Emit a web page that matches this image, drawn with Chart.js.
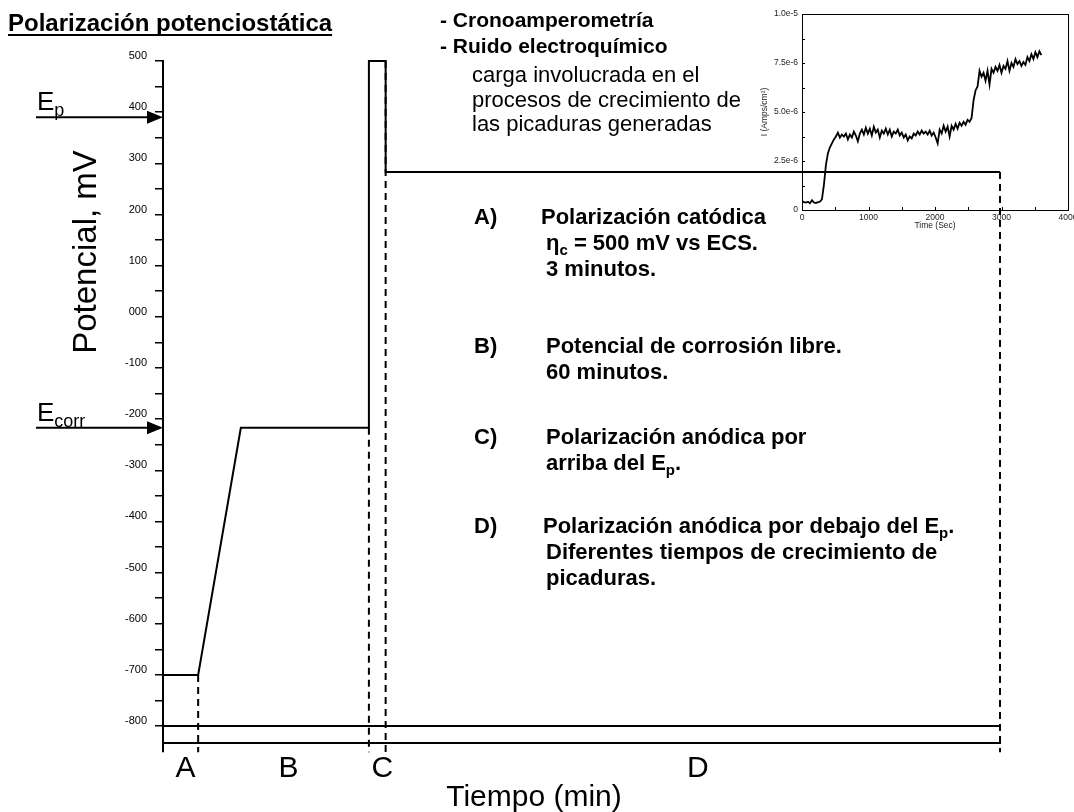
<!DOCTYPE html>
<html>
<head>
<meta charset="utf-8">
<script src="https://cdn.jsdelivr.net/npm/chart.js@4"></script>
<style>
  html, body { margin: 0; padding: 0; background: #fff; overflow: hidden; }
  #wrap { position: relative; width: 1074px; height: 812px; }
  #main { position: absolute; left: 0; top: 0; }
  #inset { position: absolute; left: 740px; top: 0; }
</style>
</head>
<body>
<div id="wrap">
  <canvas id="main" width="1074" height="812"></canvas>
  <canvas id="inset" width="360" height="235"></canvas>
</div>
<script>
// potential program (time in arbitrary units, potential in mV)
const stepTime = [0, 4.2, 9.3, 24.6, 24.6, 26.6, 26.6, 100];
const stepPotential = [-700, -700, -217, -217, 500, 500, 283, 283];
const baseLevel = -800;
const potentialMin = -833;
const stubBottom = -851;
const phaseBounds = [0, 4.2, 24.6, 26.6, 100];
const phaseNames = ['A', 'B', 'C', 'D'];
const guideTime = [4.2, 24.6, 26.6, 100];
const guideTop = [-700, -217, 500, 283];
const epValue = 390;
const ecorrValue = -217;
const potentialTicks = [500, 400, 300, 200, 100, 0, -100, -200, -300, -400, -500, -600, -700, -800];

// inset: chronoamperometry, current in 1e-6 A/cm2
const insetTime = [
  0, 30, 60, 90, 120, 150, 180, 210, 240, 270,
  300, 330, 360, 390, 420, 450, 480, 510, 540, 570,
  600, 630, 660, 690, 720, 750, 780, 810, 840, 870,
  900, 930, 960, 990, 1020, 1050, 1080, 1110, 1140, 1170,
  1200, 1230, 1260, 1290, 1320, 1350, 1380, 1410, 1440, 1470,
  1500, 1530, 1560, 1590, 1620, 1650, 1680, 1710, 1740, 1770,
  1800, 1830, 1860, 1890, 1920, 1950, 1980, 2010, 2040, 2070,
  2100, 2130, 2160, 2190, 2220, 2250, 2280, 2310, 2340, 2370,
  2400, 2430, 2460, 2490, 2520, 2550, 2580, 2610, 2640, 2670,
  2700, 2730, 2760, 2790, 2820, 2850, 2880, 2910, 2940, 2970,
  3000, 3030, 3060, 3090, 3120, 3150, 3180, 3210, 3240, 3270,
  3300, 3330, 3360, 3390, 3420, 3450, 3480, 3510, 3540, 3570,
  3600
];
const insetCurrent = [
  0.45, 0.40, 0.38, 0.42, 0.35, 0.50, 0.38, 0.36, 0.40, 0.42,
  0.55, 1.30, 2.30, 2.90, 3.20, 3.40, 3.60, 3.75, 3.95, 3.70,
  3.85, 3.75, 3.90, 3.60, 3.85, 3.70, 4.00, 3.80, 3.50, 3.90,
  4.10, 3.85, 4.20, 3.90, 4.15, 3.80, 4.25, 3.95, 4.10, 3.70,
  4.05, 3.90, 4.15, 3.85, 4.10, 3.75, 4.00, 3.90, 4.10, 3.80,
  3.95, 3.70, 3.85, 3.55, 3.75, 3.65, 3.90, 3.80, 4.00, 3.85,
  4.05, 3.90, 4.00, 3.85, 4.05, 3.80, 3.95, 3.70, 3.40, 4.10,
  3.90, 4.30, 4.00, 4.25, 3.75, 4.30, 4.10, 4.40, 4.15, 4.45,
  4.30, 4.50, 4.35, 4.60, 4.50, 4.70, 5.60, 6.10, 6.30, 7.10,
  6.80, 7.00, 6.60, 7.10, 6.40, 7.20, 7.00, 7.30, 7.10, 7.40,
  7.00, 7.35, 7.20, 7.60, 7.10, 7.50, 7.30, 7.70, 7.45, 7.60,
  7.35, 7.55, 7.40, 7.80, 7.60, 7.95, 7.70, 8.05, 7.80, 8.10,
  7.90
];
const insetYTicks = [0, 2.5e-6, 5e-6, 7.5e-6, 1e-5];
const insetXTicks = [0, 1000, 2000, 3000, 4000];

// texts ('_' marks a subscript piece)
const titleText = 'Polarización potenciostática';
const techniqueLines = ['- Cronoamperometría', '- Ruido electroquímico'];
const noteLines = ['carga involucrada en el', 'procesos de crecimiento de', 'las picaduras generadas'];
const stepNotes = [
  { tag: 'A)', lines: [['Polarización catódica'], ['η', '_c', ' = 500 mV vs ECS.'], ['3 minutos.']] },
  { tag: 'B)', lines: [['Potencial de corrosión libre.'], ['60 minutos.']] },
  { tag: 'C)', lines: [['Polarización anódica por'], ['arriba del E', '_p', '.']] },
  { tag: 'D)', lines: [['Polarización anódica por debajo del E', '_p', '.'], ['Diferentes tiempos de crecimiento de'], ['picaduras.']] }
];

const FONT = 'Arial, "Liberation Sans", sans-serif';
Chart.defaults.font.family = FONT;
Chart.defaults.color = '#000';

function drawRich(ctx, segs, x, y, size, bold) {
  const w = bold ? 'bold ' : '';
  let cx = x;
  segs.forEach(s => {
    const sub = s.startsWith('_');
    const t = sub ? s.slice(1) : s;
    ctx.font = w + (sub ? Math.round(size * 0.68) : size) + 'px ' + FONT;
    ctx.fillText(t, cx, sub ? y + size * 0.22 : y);
    cx += ctx.measureText(t).width;
  });
  return cx - x;
}

const line = (data, width, dash) => ({
  data, showLine: true, borderColor: '#000', borderWidth: width, borderDash: dash || [],
  pointRadius: 0, clip: false, fill: false
});

const datasets = [
  line(stepTime.map((t, i) => ({x: t, y: stepPotential[i]})), 2),
  line([{x: 0, y: baseLevel}, {x: 100, y: baseLevel}], 2),
  line([{x: 0, y: potentialMin}, {x: 0, y: stubBottom}], 2)
];
guideTime.forEach((t, i) => {
  datasets.push(line([{x: t, y: guideTop[i]}, {x: t, y: stubBottom}], 2, [7, 5]));
});

const annotations = {
  id: 'annotations',
  afterDraw(chart) {
    const ctx = chart.ctx;
    const xs = chart.scales.x, ys = chart.scales.y;
    ctx.save();
    ctx.fillStyle = '#000';
    ctx.strokeStyle = '#000';
    ctx.textBaseline = 'alphabetic';
    ctx.textAlign = 'left';

    // title, underlined
    const tw = drawRich(ctx, [titleText], 8, 31, 24, true);
    ctx.fillRect(8, 34, tw, 2);

    techniqueLines.forEach((t, i) => drawRich(ctx, [t], 440, 27 + i * 26, 21, true));
    noteLines.forEach((t, i) => drawRich(ctx, [t], 472, 82 + i * 24.5, 22, false));

    const firstY = [224, 353, 444, 533];
    const textX = [541, 546, 546, 543];
    stepNotes.forEach((n, i) => {
      drawRich(ctx, [n.tag], 474, firstY[i], 22, true);
      n.lines.forEach((l, j) => drawRich(ctx, l, j === 0 ? textX[i] : 546, firstY[i] + j * 26, 22, true));
    });

    // Ep / Ecorr arrows
    [[epValue, ['E', '_p']], [ecorrValue, ['E', '_corr']]].forEach(([v, lab]) => {
      const y = ys.getPixelForValue(v);
      const x1 = xs.left;
      ctx.lineWidth = 2;
      ctx.beginPath();
      ctx.moveTo(36, y);
      ctx.lineTo(x1 - 14, y);
      ctx.stroke();
      ctx.beginPath();
      ctx.moveTo(x1 - 16, y - 6.5);
      ctx.lineTo(x1, y);
      ctx.lineTo(x1 - 16, y + 6.5);
      ctx.closePath();
      ctx.fill();
      drawRich(ctx, lab, 37, y - 7, 26, false);
    });

    // phase letters
    ctx.textAlign = 'center';
    ctx.font = '30px ' + FONT;
    phaseNames.forEach((n, i) => {
      const mid = (xs.getPixelForValue(phaseBounds[i]) + xs.getPixelForValue(phaseBounds[i + 1])) / 2;
      ctx.fillText(n, mid + 5, 777);
    });

    // axis titles
    ctx.font = '30px ' + FONT;
    ctx.fillText('Tiempo (min)', 534, 806);
    ctx.translate(87, 252);
    ctx.rotate(-Math.PI / 2);
    ctx.textBaseline = 'middle';
    ctx.font = '33px ' + FONT;
    ctx.fillText('Potencial, mV', 0, 0);
    ctx.restore();
  }
};

const allPotentialTicks = [];
potentialTicks.forEach((v, i) => {
  allPotentialTicks.push(v);
  if (i < potentialTicks.length - 1) allPotentialTicks.push(v - 50);
});

new Chart(document.getElementById('main'), {
  type: 'scatter',
  data: { datasets },
  options: {
    responsive: false,
    animation: false,
    layout: { padding: { left: 0, right: 74, top: 61, bottom: 0 } },
    plugins: { legend: { display: false }, tooltip: { enabled: false } },
    scales: {
      x: {
        type: 'linear', min: 0, max: 100,
        ticks: { display: false },
        grid: { display: false },
        border: { color: '#000', width: 2 },
        afterFit: s => { s.height = 69; }
      },
      y: {
        type: 'linear', min: potentialMin, max: 500,
        afterBuildTicks: s => { s.ticks = allPotentialTicks.map(v => ({ value: v })); },
        ticks: {
          autoSkip: false,
          font: { size: 11 },
          color: '#000',
          padding: 8,
          labelOffset: -5,
          callback: v => potentialTicks.includes(v) ? (v === 0 ? '000' : String(v)) : ''
        },
        grid: { drawOnChartArea: false, drawTicks: true, tickLength: 8, color: '#000', lineWidth: 1.5 },
        border: { color: '#000', width: 2 },
        afterFit: s => { s.width = 163; }
      }
    }
  },
  plugins: [annotations]
});

// inset chart
const insetFrame = {
  id: 'insetFrame',
  afterDraw(chart) {
    const {ctx, chartArea: a} = chart;
    const xs = chart.scales.x, ys = chart.scales.y;
    ctx.save();
    ctx.strokeStyle = '#000';
    ctx.lineWidth = 1;
    ctx.strokeRect(a.left + 0.5, a.top + 0.5, a.width, a.height);
    ctx.beginPath();
    for (let i = 0; i < insetYTicks.length; i++) {
      const v = insetYTicks[i];
      [v, v + 1.25e-6].forEach(t => {
        if (t > 1e-5) return;
        const y = Math.round(ys.getPixelForValue(t)) + 0.5;
        ctx.moveTo(a.left, y); ctx.lineTo(a.left + 3, y);
      });
    }
    for (let i = 0; i < insetXTicks.length; i++) {
      [insetXTicks[i], insetXTicks[i] + 500].forEach(t => {
        if (t > 4000) return;
        const x = Math.round(xs.getPixelForValue(t)) + 0.5;
        ctx.moveTo(x, a.bottom); ctx.lineTo(x, a.bottom - 3);
      });
    }
    ctx.stroke();
    ctx.restore();
  }
};

new Chart(document.getElementById('inset'), {
  type: 'scatter',
  data: {
    datasets: [{
      data: insetTime.map((t, i) => ({ x: t, y: insetCurrent[i] * 1e-6 })),
      showLine: true, borderColor: '#000', borderWidth: 1.8, pointRadius: 0, fill: false
    }]
  },
  options: {
    responsive: false,
    animation: false,
    layout: { padding: { left: 0, right: 32, top: 14, bottom: 0 } },
    plugins: { legend: { display: false }, tooltip: { enabled: false } },
    scales: {
      x: {
        type: 'linear', min: 0, max: 4000,
        afterBuildTicks: s => { s.ticks = insetXTicks.map(v => ({ value: v })); },
        ticks: { font: { size: 8.5 }, color: '#222', padding: 3, maxRotation: 0, autoSkip: false,
          callback: v => String(v) },
        grid: { drawOnChartArea: false, drawTicks: false },
        border: { display: false },
        title: { display: true, text: 'Time (Sec)', font: { size: 8.5 }, color: '#222', padding: { top: 0, bottom: 4 } },
        afterFit: s => { s.height = 25; }
      },
      y: {
        type: 'linear', min: 0, max: 1e-5,
        afterBuildTicks: s => { s.ticks = insetYTicks.map(v => ({ value: v })); },
        ticks: { font: { size: 8.5 }, color: '#222', padding: 4, autoSkip: false,
          callback: v => v === 0 ? '0' : v.toExponential(1) },
        grid: { drawOnChartArea: false, drawTicks: false },
        border: { display: false },
        title: { display: true, text: 'I (Amps/cm²)', font: { size: 8.5 }, color: '#222', padding: { top: 20, bottom: 0 } },
        afterFit: s => { s.width = 62; }
      }
    }
  },
  plugins: [insetFrame]
});
</script>
</body>
</html>
